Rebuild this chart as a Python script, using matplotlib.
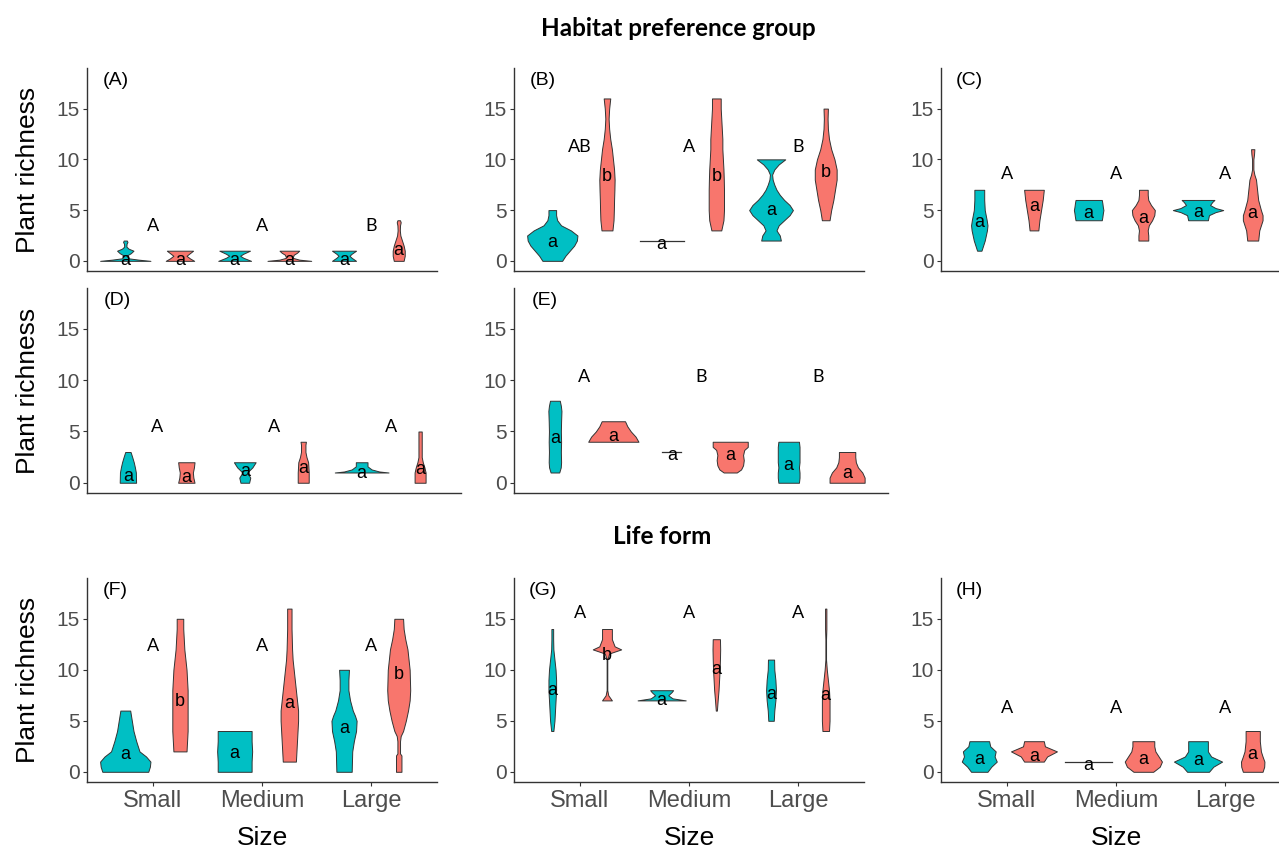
import numpy as np
import matplotlib.pyplot as plt

sizes = ["Small", "Medium", "Large"]
fills = ["#00BFC4", "#F8766D"]

# violin outlines as (richness, half width) pairs
# order in every panel: Small teal, Small red, Medium teal, Medium red, Large teal, Large red
violins_A = [
    [(0, 0.23), (0.12, 0.12), (0.25, 0.03), (0.5, 0.01), (0.75, 0.05), (1.0, 0.075), (1.2, 0.03), (1.4, 0.01), (1.7, 0.012), (1.85, 0.02), (2.0, 0.015)],
    [(0, 0.13), (0.25, 0.09), (0.5, 0.06), (0.75, 0.09), (1.0, 0.12)],
    [(0, 0.15), (0.3, 0.08), (0.5, 0.05), (0.7, 0.08), (1.0, 0.14)],
    [(0, 0.2), (0.12, 0.09), (0.3, 0.03), (0.6, 0.04), (0.8, 0.07), (1.0, 0.09)],
    [(0, 0.11), (0.3, 0.07), (0.5, 0.05), (0.7, 0.07), (1.0, 0.11)],
    [(0, 0.045), (0.5, 0.055), (1.0, 0.055), (1.5, 0.045), (2.0, 0.03), (2.5, 0.015), (3.0, 0.01), (3.5, 0.012), (3.8, 0.018), (4.0, 0.012)],
]
violins_B = [
    [(0, 0.09), (0.5, 0.12), (1.0, 0.16), (1.5, 0.2), (2.0, 0.225), (2.5, 0.23), (3.0, 0.17), (3.5, 0.08), (4.0, 0.045), (4.5, 0.035), (5.0, 0.035)],
    [(3, 0.05), (4, 0.06), (5, 0.063), (6, 0.065), (7, 0.068), (8, 0.07), (9, 0.065), (10, 0.055), (11, 0.045), (12, 0.03), (13, 0.02), (14, 0.015), (15, 0.02), (16, 0.03)],
    [(2, 0.2)],
    [(3, 0.045), (4, 0.065), (5, 0.07), (6, 0.07), (7, 0.07), (8, 0.068), (9, 0.065), (10, 0.06), (11, 0.055), (12, 0.055), (13, 0.05), (14, 0.045), (15, 0.04), (16, 0.04)],
    [(2, 0.09), (2.5, 0.08), (3, 0.05), (3.5, 0.07), (4, 0.12), (4.5, 0.17), (5, 0.2), (5.5, 0.17), (6, 0.12), (6.5, 0.08), (7, 0.05), (7.5, 0.03), (8, 0.015), (8.5, 0.01), (9, 0.03), (9.5, 0.07), (10, 0.13)],
    [(4, 0.035), (5, 0.05), (6, 0.07), (7, 0.085), (8, 0.1), (9, 0.1), (10, 0.08), (11, 0.05), (12, 0.03), (13, 0.02), (14, 0.017), (15, 0.02)],
]
violins_C = [
    [(1, 0.02), (2, 0.05), (3, 0.07), (3.5, 0.075), (4, 0.068), (5, 0.05), (6, 0.045), (7, 0.045)],
    [(3, 0.04), (4, 0.05), (5, 0.065), (6, 0.08), (7, 0.09)],
    [(4, 0.12), (4.3, 0.125), (4.7, 0.13), (5, 0.135), (5.3, 0.13), (5.7, 0.125), (6, 0.12)],
    [(2, 0.045), (2.5, 0.045), (3, 0.04), (3.5, 0.05), (4, 0.08), (4.5, 0.1), (5, 0.105), (5.5, 0.07), (6, 0.045), (6.5, 0.04), (7, 0.04)],
    [(4, 0.09), (4.5, 0.1), (4.8, 0.16), (5.0, 0.23), (5.2, 0.16), (5.5, 0.11), (5.8, 0.13), (6, 0.15)],
    [(2, 0.05), (3, 0.06), (3.5, 0.075), (4, 0.09), (4.5, 0.09), (5, 0.075), (6, 0.05), (7, 0.04), (8, 0.03), (8.5, 0.015), (9, 0.006), (10, 0.006), (10.5, 0.012), (11, 0.015)],
]
violins_D = [
    [(0, 0.07), (1, 0.068), (1.5, 0.06), (2, 0.05), (2.5, 0.037), (3, 0.023)],
    [(0, 0.07), (0.5, 0.06), (1, 0.056), (1.5, 0.065), (2, 0.07)],
    [(0, 0.037), (0.5, 0.047), (1, 0.02), (1.5, 0.065), (2, 0.093)],
    [(0, 0.047), (1, 0.047), (2, 0.042), (2.5, 0.028), (3, 0.019), (3.7, 0.019), (4, 0.023)],
    [(1, 0.23), (1.1, 0.15), (1.3, 0.085), (1.6, 0.05), (2, 0.05)],
    [(0, 0.047), (1, 0.047), (1.5, 0.037), (2, 0.023), (2.5, 0.014), (3, 0.014), (4, 0.014), (5, 0.014)],
]
violins_E = [
    [(1, 0.037), (1.5, 0.05), (2, 0.053), (3, 0.051), (4, 0.053), (5, 0.051), (6, 0.053), (7, 0.056), (7.5, 0.051), (8, 0.042)],
    [(4, 0.215), (4.5, 0.19), (5, 0.15), (5.5, 0.12), (6, 0.1)],
    [(3, 0.08)],
    [(1, 0.056), (1.3, 0.093), (1.7, 0.11), (2.2, 0.116), (2.7, 0.11), (3.2, 0.12), (3.5, 0.15), (4, 0.15)],
    [(0, 0.088), (0.5, 0.093), (1, 0.093), (1.5, 0.088), (2, 0.093), (2.5, 0.093), (3, 0.093), (3.5, 0.093), (4, 0.088)],
    [(0, 0.15), (0.5, 0.15), (1, 0.13), (1.5, 0.093), (2, 0.075), (2.5, 0.07), (3, 0.07)],
]
violins_F = [
    [(0, 0.21), (0.5, 0.225), (1, 0.23), (1.5, 0.19), (2, 0.13), (3, 0.1), (4, 0.075), (5, 0.06), (6, 0.045)],
    [(2, 0.06), (3, 0.065), (4, 0.07), (6, 0.07), (8, 0.07), (10, 0.06), (11, 0.05), (12, 0.04), (13, 0.035), (14, 0.03), (15, 0.03)],
    [(0, 0.155), (1, 0.155), (2, 0.16), (3, 0.155), (4, 0.155)],
    [(1, 0.06), (2, 0.065), (3, 0.07), (4, 0.075), (5, 0.08), (6, 0.08), (7, 0.07), (8, 0.06), (9, 0.05), (10, 0.04), (11, 0.03), (12, 0.025), (14, 0.02), (16, 0.02)],
    [(0, 0.07), (2, 0.075), (3, 0.09), (4, 0.11), (5, 0.115), (5.5, 0.1), (6, 0.08), (7, 0.055), (8, 0.04), (9, 0.04), (10, 0.045)],
    [(0, 0.025), (1, 0.025), (1.6, 0.025), (1.8, 0.012), (3, 0.012), (3.5, 0.018), (4, 0.04), (5, 0.065), (6, 0.085), (7, 0.1), (8, 0.105), (10, 0.1), (11, 0.09), (12, 0.08), (13, 0.06), (14, 0.045), (15, 0.04)],
]
violins_G = [
    [(4, 0.01), (5, 0.02), (6, 0.025), (7, 0.03), (8, 0.035), (9, 0.035), (10, 0.03), (11, 0.02), (12, 0.01), (13, 0.008), (14, 0.008)],
    [(7, 0.045), (7.5, 0.012), (8, 0.003), (11, 0.003), (11.6, 0.02), (12, 0.13), (12.3, 0.07), (13, 0.045), (14, 0.045)],
    [(7, 0.22), (7.2, 0.1), (7.5, 0.06), (7.8, 0.09), (8, 0.105)],
    [(6, 0.005), (7, 0.012), (8, 0.02), (9, 0.025), (10, 0.03), (11, 0.033), (12, 0.035), (13, 0.033)],
    [(5, 0.025), (6, 0.03), (7, 0.04), (8, 0.045), (9, 0.04), (10, 0.03), (11, 0.028)],
    [(4, 0.03), (5, 0.035), (6, 0.035), (7, 0.035), (8, 0.03), (9, 0.02), (10, 0.01), (11, 0.003), (13, 0.003), (14, 0.006), (16, 0.006)],
]
violins_H = [
    [(0, 0.075), (0.5, 0.11), (1, 0.16), (1.5, 0.14), (2, 0.15), (2.5, 0.1), (3, 0.09)],
    [(1, 0.09), (1.5, 0.12), (2, 0.21), (2.5, 0.1), (3, 0.09)],
    [(1, 0.214)],
    [(0, 0.09), (0.5, 0.15), (1, 0.17), (1.5, 0.14), (2, 0.11), (2.5, 0.1), (3, 0.1)],
    [(0, 0.1), (0.5, 0.14), (1, 0.22), (1.5, 0.12), (2, 0.09), (2.5, 0.09), (3, 0.09)],
    [(0, 0.09), (0.5, 0.105), (1, 0.107), (1.5, 0.09), (2, 0.075), (3, 0.065), (4, 0.065)],
]

# letters comparing sizes (one per size) and their height
size_letters = {
    "A": ["A", "A", "B"], "B": ["AB", "A", "B"], "C": ["A", "A", "A"], "D": ["A", "A", "A"],
    "E": ["A", "B", "B"], "F": ["A", "A", "A"], "G": ["A", "A", "A"], "H": ["A", "A", "A"],
}
size_letter_y = {"A": 3.4, "B": 11.2, "C": 8.6, "D": 5.4, "E": 10.3, "F": 12.3, "G": 15.6, "H": 6.3}

# letters inside each violin and their height
group_letters = {
    "A": ["a"] * 6, "B": ["a", "b", "a", "b", "a", "b"], "C": ["a"] * 6, "D": ["a"] * 6,
    "E": ["a"] * 6, "F": ["a", "b", "a", "a", "a", "b"], "G": ["a", "b", "a", "a", "a", "a"], "H": ["a"] * 6,
}
group_letter_y = {
    "A": [0, 0, 0, 0, 0, 1.0],
    "B": [1.8, 8.3, 1.6, 8.3, 5.0, 8.7],
    "C": [3.8, 5.4, 4.7, 4.2, 4.8, 4.7],
    "D": [0.6, 0.5, 1.1, 1.4, 0.9, 1.25],
    "E": [4.3, 4.5, 2.7, 2.7, 1.7, 0.9],
    "F": [1.7, 6.9, 1.8, 6.7, 4.2, 9.5],
    "G": [8.0, 11.4, 7.0, 10.0, 7.6, 7.5],
    "H": [1.2, 1.5, 0.65, 1.2, 1.1, 1.7],
}

violins = {"A": violins_A, "B": violins_B, "C": violins_C, "D": violins_D,
           "E": violins_E, "F": violins_F, "G": violins_G, "H": violins_H}

W, H = 1279, 850
fig = plt.figure(figsize=(12.79, 8.5), dpi=100)
tick_font = "Liberation Sans"
note_font = ["Lato", "DejaVu Sans"]

# panel -> (row, col); pixel layout of the rows/cols
layout = {"A": (0, 0), "B": (0, 1), "C": (0, 2), "D": (1, 0), "E": (1, 1),
          "F": (2, 0), "G": (2, 1), "H": (2, 2)}
row_top = [68, 288, 578]
row_height = [203, 205, 204]
row_width = [350, 374, 350]
col_left = [87, 514, 941]
dodge = 0.25
edge = "#333333"

for name, (r, c) in layout.items():
    left, top, w, h = col_left[c], row_top[r], row_width[r], row_height[r]
    ax = fig.add_axes([left / W, 1 - (top + h) / H, w / W, h / H])
    ax.set_xlim(0.4, 3.6)
    ax.set_ylim(-1, 19)
    for s in ["top", "right"]:
        ax.spines[s].set_visible(False)
    for s in ["left", "bottom"]:
        ax.spines[s].set_color(edge)
        ax.spines[s].set_linewidth(1.0)

    for i, prof in enumerate(violins[name]):
        xc = 1 + i // 2 + (dodge if i % 2 else -dodge)
        ys = np.array([p[0] for p in prof], dtype=float)
        ws = np.array([p[1] for p in prof], dtype=float)
        if len(ys) == 1:
            ax.plot([xc - ws[0], xc + ws[0]], [ys[0], ys[0]], color=edge, lw=0.9)
        else:
            ax.fill_betweenx(ys, xc - ws, xc + ws, facecolor=fills[i % 2],
                             edgecolor=edge, linewidth=0.7)
        ax.text(xc, group_letter_y[name][i], group_letters[name][i], ha="center",
                va="center", fontsize=13, family=tick_font, color="black")

    for k, lab in enumerate(size_letters[name]):
        ax.text(1 + k, size_letter_y[name], lab, ha="center", va="center",
                fontsize=13, family=note_font, color="black")

    ax.text(0.66, 17.8, f"({name})", ha="center", va="center", fontsize=14,
            family=tick_font, color="black")

    ax.set_yticks([0, 5, 10, 15])
    ax.tick_params(axis="y", length=3, width=0.8, color=edge, labelsize=15,
                   labelcolor="#4D4D4D", pad=2)
    for t in ax.get_yticklabels():
        t.set_family(tick_font)
    ax.set_xticks([1, 2, 3])
    if r == 2:
        ax.set_xticklabels(sizes, family=tick_font)
        ax.tick_params(axis="x", length=3, width=0.8, color=edge, labelsize=17,
                       labelcolor="#4D4D4D", pad=3)
        ax.set_xlabel("Size", fontsize=19, family=tick_font, labelpad=10)
    else:
        ax.set_xticklabels([])
        ax.tick_params(axis="x", length=0)
    if c == 0:
        ax.set_ylabel("Plant richness", fontsize=19, family=tick_font, labelpad=12)

fig.text(678 / W, 1 - 28 / H, "Habitat preference group", ha="center", va="center",
         fontsize=17.5, fontweight="bold", family=note_font)
fig.text(662 / W, 1 - 537 / H, "Life form", ha="center", va="center",
         fontsize=17.5, fontweight="bold", family=note_font)

fig.savefig("out.png", dpi=100)
